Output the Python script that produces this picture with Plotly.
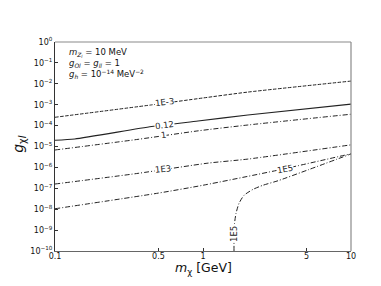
import math
import plotly.graph_objects as go

# ---- data ----
x_1em3 = [0.1, 0.45, 1.0, 2.0, 10.0]
y_1em3 = [2.5e-4, 9.8e-4, 2.1e-3, 4.0e-3, 1.35e-2]

x_012 = [0.1, 0.136, 0.45, 0.925, 2.01, 10.0]
y_012 = [2.0e-5, 2.3e-5, 9.0e-5, 1.65e-4, 3.2e-4, 1.07e-3]

x_1 = [0.1, 0.364, 0.925, 2.01, 10.0]
y_1 = [6.8e-6, 2.2e-5, 5.6e-5, 1.07e-4, 3.5e-4]

x_1e3 = [0.1, 0.364, 1.08, 2.01, 10.0]
y_1e3 = [1.6e-7, 5.2e-7, 1.6e-6, 2.5e-6, 1.2e-5]

x_1e5a = [0.1, 0.5, 1.0, 3.16, 10.0]
y_1e5a = [1.05e-8, 5.9e-8, 1.4e-7, 7.2e-7, 4.5e-6]

x_1e5b = [1.62, 1.62, 1.633, 1.671, 1.751, 1.892, 2.178, 2.543, 3.212, 5.12, 10.0]
y_1e5b = [1e-10, 6.9e-10, 2.1e-9, 6.3e-9, 1.9e-8, 4.6e-8, 8.9e-8, 1.4e-7, 2.3e-7, 7.6e-7, 4.4e-6]

# contour labels: text, x, y, angle
label_text = ["1E-3", "0.12", "1", "1E3", "1E5", "1E5"]
label_x = [0.553, 0.553, 0.537, 0.537, 3.58, 1.62]
label_y = [1.3e-3, 1.05e-4, 3.5e-5, 8.1e-7, 8.5e-7, 6.5e-10]
label_angle = [-7, -7, -7, -6, -11, -90]

x_ticks = [0.1, 0.5, 1, 5, 10]
x_ticktext = ["0.1", "0.5", "1", "5", "10"]
y_ticks = [10.0 ** e for e in range(-10, 1)]
y_ticktext = ["10<sup>%s</sup>" % (("−%d" % -e) if e < 0 else "%d" % e) for e in range(-10, 1)]

FONT = "DejaVu Sans"
DASHDOT = "5px,2px,1px,2px"

fig = go.Figure()
series = [
    (x_1em3, y_1em3, "3.5px,1.5px", 1.0),
    (x_012, y_012, "solid", 1.1),
    (x_1, y_1, DASHDOT, 1.0),
    (x_1e3, y_1e3, DASHDOT, 1.0),
    (x_1e5a, y_1e5a, DASHDOT, 1.0),
    (x_1e5b, y_1e5b, DASHDOT, 1.0),
]
for xs, ys, dash, w in series:
    fig.add_trace(go.Scatter(x=xs, y=ys, mode="lines",
                             line=dict(color="#222222", width=w, dash=dash, shape="spline", smoothing=0.6),
                             showlegend=False, hoverinfo="skip"))

for t, lx, ly, ang in zip(label_text, label_x, label_y, label_angle):
    fig.add_annotation(x=math.log10(lx), y=math.log10(ly), text=t, showarrow=False,
                       textangle=ang, bgcolor="white", borderpad=0,
                       font=dict(family=FONT, size=8.5, color="#222222"))

# info text
fig.add_annotation(xref="paper", yref="paper", x=0.04, y=0.985, xanchor="left", yanchor="top",
                   align="left", showarrow=False,
                   text=("<i>m</i><sub><i>Z</i><sub><i>l</i></sub></sub> = 10 MeV<br>"
                         "<i>g</i><sub><i>Ol</i></sub> = <i>g</i><sub><i>ll</i></sub> = 1<br>"
                         "<i>g</i><sub><i>h</i></sub> = 10<sup>−14</sup> MeV<sup>−2</sup>"),
                   font=dict(family=FONT, size=8.5, color="#111111"))

# axis titles
fig.add_annotation(xref="paper", yref="paper", x=0.5, y=-0.085, xanchor="center", yanchor="middle",
                   showarrow=False, text="<i>m</i><sub>χ</sub> [GeV]",
                   font=dict(family=FONT, size=12.5, color="#111111"))
fig.add_annotation(xref="paper", yref="paper", x=-0.12, y=0.515, xanchor="center", yanchor="middle",
                   showarrow=False, textangle=-90, text="<i>g</i><sub>χ<i>l</i></sub>",
                   font=dict(family=FONT, size=14, color="#111111"))

# top and right frame lines (lighter)
fig.add_shape(type="line", xref="paper", yref="paper", x0=0, x1=1, y0=1, y1=1,
              line=dict(color="#8a8a8a", width=1.2))
fig.add_shape(type="line", xref="paper", yref="paper", x0=1, x1=1, y0=0, y1=1,
              line=dict(color="#8a8a8a", width=1.2))

fig.update_layout(
    width=381, height=286,
    margin=dict(l=47, r=38, t=34, b=43),
    plot_bgcolor="white", paper_bgcolor="white",
    font=dict(family=FONT, size=8, color="#111111"),
    xaxis=dict(type="log", range=[-1, 1], tickvals=x_ticks, ticktext=x_ticktext,
               ticks="inside", ticklen=3, tickcolor="#333333", showgrid=False, zeroline=False,
               showline=True, linecolor="#666666", linewidth=1.2, ticklabelstandoff=-3,
               tickfont=dict(family=FONT, size=8)),
    yaxis=dict(type="log", range=[-10, 0], tickvals=y_ticks, ticktext=y_ticktext,
               ticks="inside", ticklen=3, tickcolor="#333333", showgrid=False, zeroline=False,
               showline=True, linecolor="#333333", linewidth=1.2,
               tickfont=dict(family=FONT, size=8)),
)

fig.write_html("out.html")
